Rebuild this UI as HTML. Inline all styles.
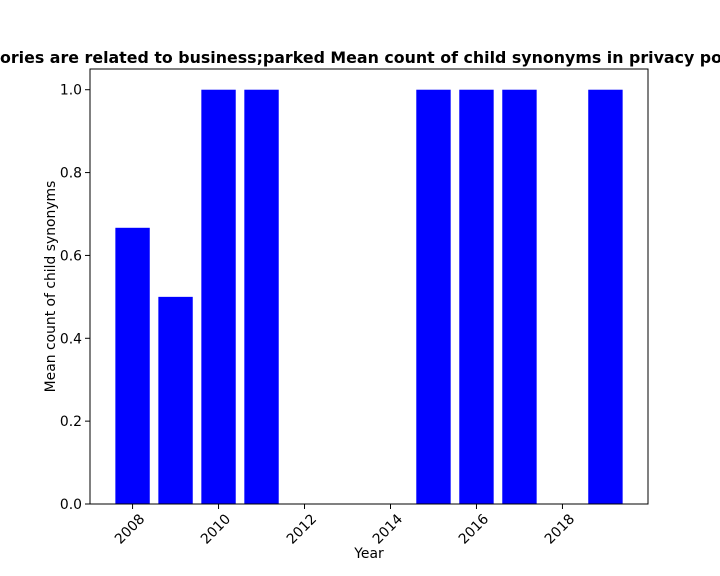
<!DOCTYPE html>
<html><head><meta charset="utf-8"><style>body{margin:0;background:#fff}svg{display:block}text{font-family:"DejaVu Sans","Liberation Sans",sans-serif}</style></head>
<body>
<svg id="chart" width="720" height="576"></svg>
<script>
const years=[2008,2009,2010,2011,2015,2016,2017,2019];
const values=[0.6667,0.5,1,1,1,1,1,1];
const xTicks=[2008,2010,2012,2014,2016,2018];
const yTicks=[0,0.2,0.4,0.6,0.8,1.0];
const L=90,R=648,T=69,B=504;
const x0=2007.01,x1=2019.99,y0=0,y1=1.05;
const sx=v=>L+(v-x0)/(x1-x0)*(R-L);
const sy=v=>B-(v-y0)/(y1-y0)*(B-T);
const svg=document.getElementById('chart');
const NS='http://www.w3.org/2000/svg';
function mk(tag,attrs,txt){const e=document.createElementNS(NS,tag);for(const k in attrs)e.setAttribute(k,attrs[k]);if(txt!==undefined)e.textContent=txt;svg.appendChild(e);return e;}
const bw=0.8*(sx(1)-sx(0));
years.forEach((yr,i)=>{
  const b=mk('rect',{x:sx(yr)-bw/2,y:sy(values[i]),width:bw,height:sy(0)-sy(values[i]),fill:'#0000ff'});
  
  
});
const frame=mk('rect',{x:L,y:T,width:R-L,height:B-T,fill:'none',stroke:'#000','stroke-width':1});


xTicks.forEach(t=>{
  const x=sx(t);
  mk('line',{x1:x,y1:B,x2:x,y2:B+5,stroke:'#000'});
  const ax=x+6, ay=B+9;
  const tl=mk('text',{x:ax,y:ay,'font-size':13.9,'text-anchor':'end','dominant-baseline':'hanging',transform:`rotate(-45 ${ax} ${ay})`},t);
  
  
});
yTicks.forEach(t=>{
  const y=sy(t);
  mk('line',{x1:L,y1:y,x2:L-5,y2:y,stroke:'#000'});
  const tl=mk('text',{x:L-8,y:y+5,'font-size':13.9,'text-anchor':'end'},t.toFixed(1));
  
  
});
const xt=mk('text',{x:(L+R)/2,y:558,'font-size':13.9,'text-anchor':'middle'},'Year');


const yt=mk('text',{x:55,y:(T+B)/2,'font-size':13.9,'text-anchor':'middle',transform:`rotate(-90 55 ${(T+B)/2})`},'Mean count of child synonyms');


const title=mk('text',{x:0,y:63,'font-size':16,'font-weight':'bold','text-anchor':'start',textLength:722,lengthAdjust:'spacingAndGlyphs'},'ories are related to business;parked Mean count of child synonyms in privacy po');


</script>
</body></html>
